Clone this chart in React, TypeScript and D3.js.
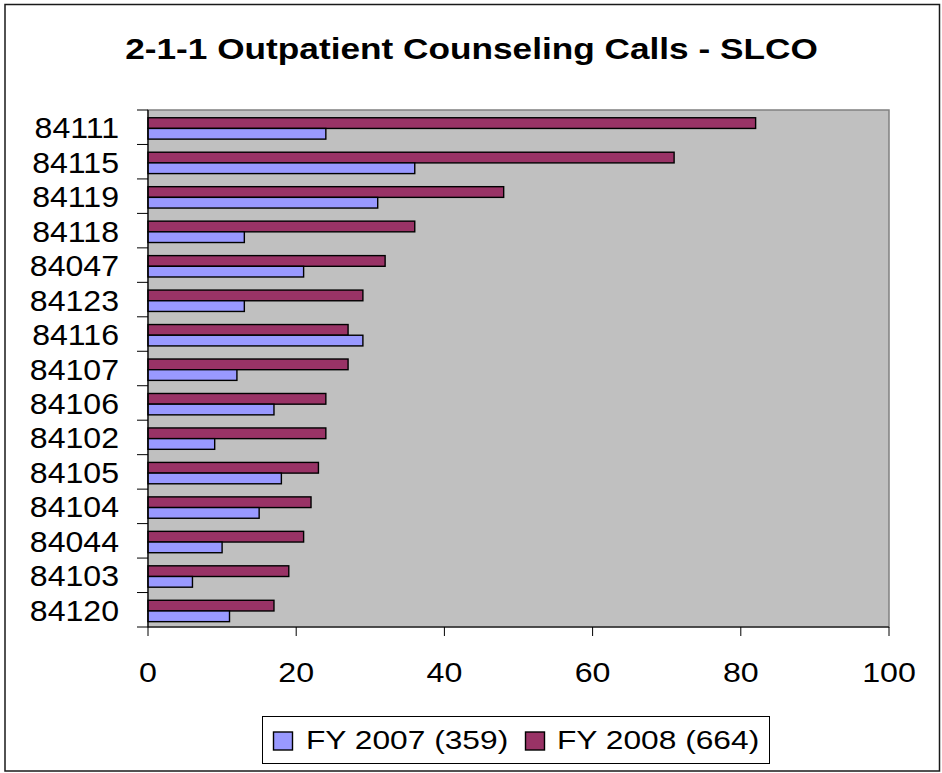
import React from "react";
import * as d3 from "d3";

const categories = ["84111","84115","84119","84118","84047","84123","84116","84107","84106","84102","84105","84104","84044","84103","84120"];
const fy2007 = [24,36,31,13,21,13,29,12,17,9,18,15,10,6,11];
const fy2008 = [82,71,48,36,32,29,27,27,24,24,23,22,21,19,17];
const seriesNames = ["FY 2007 (359)", "FY 2008 (664)"];
const xTicks = [0,20,40,60,80,100];
const titleText = "2-1-1 Outpatient Counseling Calls - SLCO";

const W = 942, H = 773;
const plot = { left: 148, right: 889, top: 110, bottom: 627 };
const BLUE = "#9999FF", MAROON = "#993366";
const FONT = "'Liberation Sans', Arial, Helvetica, sans-serif";

function SText({ x, y, sx, size, anchor, bold, children }: any) {
  return (
    <g transform={`translate(${x},${y}) scale(${sx},1)`}>
      <text x={0} y={0} fontSize={size} fontFamily={FONT} fontWeight={bold ? "bold" : "normal"} textAnchor={anchor} fill="#000">
        {children}
      </text>
    </g>
  );
}

export default function App() {
  const x = d3.scaleLinear().domain([0, 100]).range([plot.left, plot.right]);
  const y = d3.scaleBand<string>().domain(categories).range([plot.top, plot.bottom]).padding(0);
  const bw = y.bandwidth();
  const bh = bw * 0.31;
  const off = (bw - 2 * bh) / 2 + 1.2;

  return (
    <svg width={W} height={H} style={{ position: "absolute", left: 0, top: 0, background: "#fff" }}>
      <rect x={5} y={4.5} width={934.5} height={766.5} fill="#fff" stroke="#1a1a1a" strokeWidth={1.5} />
      <SText x={471.5} y={58.5} sx={1.215} size={29} anchor="middle" bold>{titleText}</SText>

      <rect x={plot.left} y={plot.top} width={plot.right - plot.left} height={plot.bottom - plot.top} fill="#C0C0C0" stroke="#808080" strokeWidth={1.5} />

      {categories.map((c, i) => {
        const y0 = y(c)!;
        return (
          <g key={c}>
            <rect x={x(0)} y={y0 + off} width={x(fy2008[i]) - x(0)} height={bh} fill={MAROON} stroke="#000" strokeWidth={1.4} />
            <rect x={x(0)} y={y0 + off + bh} width={x(fy2007[i]) - x(0)} height={bh} fill={BLUE} stroke="#000" strokeWidth={1.4} />
          </g>
        );
      })}

      {/* axes */}
      <line x1={plot.left} x2={plot.left} y1={plot.top} y2={plot.bottom} stroke="#000" strokeWidth={1.2} />
      <line x1={plot.left} x2={plot.right} y1={plot.bottom} y2={plot.bottom} stroke="#000" strokeWidth={1.2} />
      {categories.map((c) => (
        <line key={"t" + c} x1={plot.left - 11} x2={plot.left} y1={y(c)!} y2={y(c)!} stroke="#000" strokeWidth={1} />
      ))}
      <line x1={plot.left - 11} x2={plot.left} y1={plot.bottom} y2={plot.bottom} stroke="#000" strokeWidth={1} />
      {categories.map((c) => (
        <SText key={"l" + c} x={119} y={y(c)! + bw / 2 + 11} sx={1.07} size={30} anchor="end">{c}</SText>
      ))}

      {xTicks.map((t) => (
        <g key={"x" + t}>
          <line x1={x(t)} x2={x(t)} y1={plot.bottom} y2={plot.bottom + 9} stroke="#000" strokeWidth={1} />
          <SText x={x(t)} y={682} sx={1.15} size={28} anchor="middle">{String(t)}</SText>
        </g>
      ))}

      {/* legend */}
      <rect x={262.5} y={716.5} width={507} height={47} fill="#fff" stroke="#000" strokeWidth={1} />
      <rect x={273.5} y={732} width={19} height={18} fill={BLUE} stroke="#000" strokeWidth={1.4} />
      <SText x={306} y={749} sx={1.22} size={26} anchor="start">{seriesNames[0]}</SText>
      <rect x={525.5} y={732} width={19} height={18} fill={MAROON} stroke="#000" strokeWidth={1.4} />
      <SText x={557} y={749} sx={1.22} size={26} anchor="start">{seriesNames[1]}</SText>
    </svg>
  );
}
